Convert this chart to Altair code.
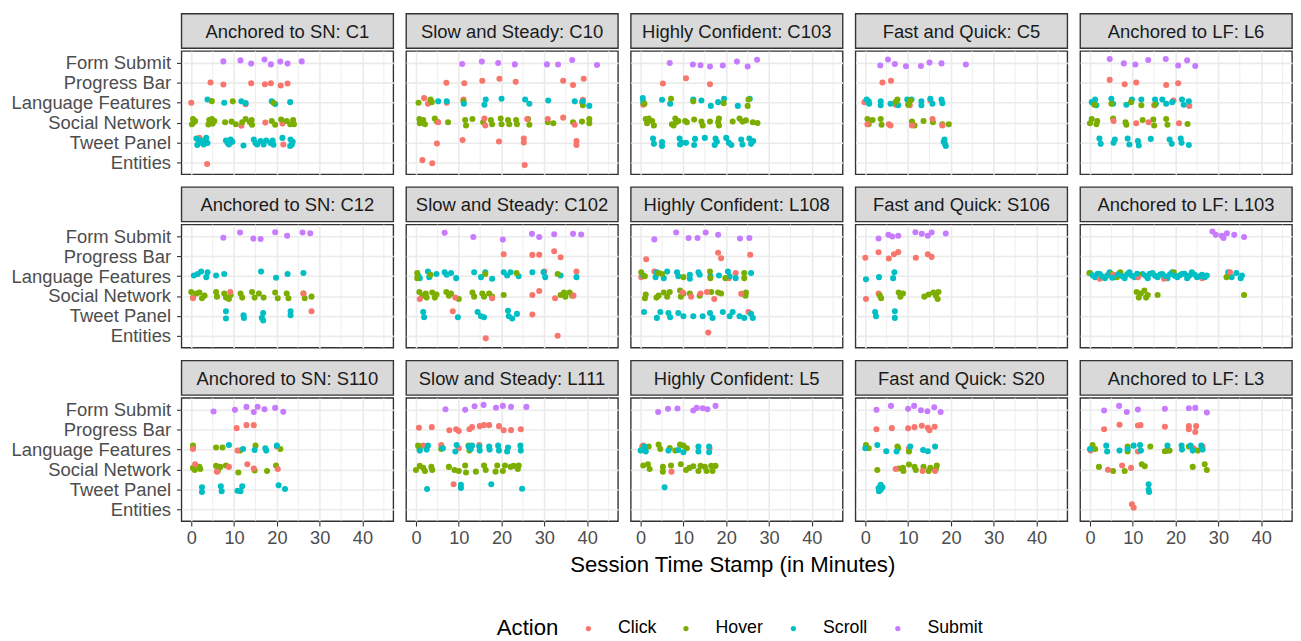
import altair as alt
import pandas as pd

FONT = "Liberation Sans"
ACTIONS = ["Click", "Hover", "Scroll", "Submit"]
ACTION_COLORS = ["#F8766D", "#7CAE00", "#00BFC4", "#C77CFF"]
CODES = {"c": "Click", "h": "Hover", "s": "Scroll", "u": "Submit"}
Y_LEVELS = ["Entities", "Tweet Panel", "Social Network", "Language Features", "Progress Bar", "Form Submit"]
X_MAJOR = [0, 10, 20, 30, 40]
X_MINOR = [5, 15, 25, 35, 45]
X_DOMAIN = [-2.3, 47.2]
Y_DOMAIN = [0.4, 6.6]
X_TITLE = "Session Time Stamp (in Minutes)"

PANEL_TITLES = [
    "Anchored to SN: C1", "Slow and Steady: C10", "Highly Confident: C103", "Fast and Quick: C5", "Anchored to LF: L6",
    "Anchored to SN: C12", "Slow and Steady: C102", "Highly Confident: L108", "Fast and Quick: S106", "Anchored to LF: L103",
    "Anchored to SN: S110", "Slow and Steady: L111", "Highly Confident: L5", "Fast and Quick: S20", "Anchored to LF: L3",
]

# (action code, minute, y position: 1=Entities ... 6=Form Submit, with jitter as read)
SN_C1 = [
    ("u", 7.5, 6.08), ("u", 11.5, 6.13), ("u", 14.0, 5.97), ("u", 17.1, 6.18), ("u", 18.6, 5.93), ("u", 20.8, 6.07), ("u", 22.5, 5.97), ("u", 25.8, 6.08),
    ("c", 4.5, 5.02), ("c", 7.5, 4.92), ("c", 14.0, 4.98), ("c", 17.2, 4.93), ("c", 18.6, 4.98), ("c", 20.9, 4.87), ("c", 22.5, 4.97),
    ("c", 0.0, 4.0), ("c", 12.7, 3.92), ("c", 11.7, 2.84), ("c", 17.3, 3.0), ("c", 21.3, 2.95), ("c", 1.9, 2.23), ("c", 21.5, 1.9), ("c", 3.7, 0.92),
    ("s", 3.8, 4.16), ("s", 7.7, 4.0), ("s", 11.7, 4.07), ("s", 12.7, 3.98), ("s", 18.8, 4.07), ("s", 19.6, 3.93), ("s", 23.1, 4.03),
    ("h", 4.8, 4.08), ("h", 9.7, 4.07), ("h", 19.2, 4.0),
    ("h", 0.4, 3.18), ("h", 0.6, 3.02), ("h", 0.15, 2.92), ("h", 0.9, 3.08), ("h", 4.2, 3.13), ("h", 5.0, 2.95), ("h", 5.4, 3.08), ("h", 4.0, 2.9), ("h", 4.8, 3.18),
    ("h", 7.9, 3.02), ("h", 9.4, 3.05), ("h", 10.4, 2.92), ("h", 11.9, 3.02), ("h", 12.7, 3.18), ("h", 14.1, 3.13), ("h", 14.2, 2.89), ("h", 13.7, 3.02),
    ("h", 18.8, 3.08), ("h", 19.6, 2.89), ("h", 21.0, 3.16), ("h", 22.3, 3.08), ("h", 23.1, 2.92), ("h", 23.8, 3.13), ("h", 24.0, 2.92),
    ("s", 1.2, 2.2), ("s", 1.7, 1.97), ("s", 2.3, 2.1), ("s", 2.9, 1.9), ("s", 3.5, 2.23), ("s", 3.8, 1.97), ("s", 1.4, 1.87), ("s", 3.1, 2.07),
    ("s", 8.1, 2.1), ("s", 8.8, 1.9), ("s", 9.6, 2.03), ("s", 8.5, 1.97), ("s", 9.2, 2.15), ("s", 12.2, 1.85),
    ("s", 14.6, 2.15), ("s", 15.4, 1.9), ("s", 16.2, 2.07), ("s", 15.0, 1.97), ("s", 17.5, 2.1), ("s", 16.9, 1.9),
    ("s", 18.5, 1.97), ("s", 19.2, 1.89), ("s", 19.0, 2.1), ("s", 21.3, 2.23), ("s", 23.2, 2.15), ("s", 23.5, 1.9), ("s", 23.7, 2.03), ("s", 23.1, 1.82),
]

SS_C10 = [
    ("u", 10.8, 5.95), ("u", 15.4, 6.07), ("u", 19.2, 6.0), ("u", 23.1, 5.93), ("u", 30.6, 5.93), ("u", 33.2, 5.92), ("u", 36.5, 6.15), ("u", 42.3, 5.9),
    ("c", 7.1, 5.0), ("c", 11.3, 4.98), ("c", 15.5, 5.1), ("c", 19.5, 5.21), ("c", 23.3, 5.05), ("c", 34.4, 5.11), ("c", 36.7, 4.89), ("c", 39.2, 5.21),
    ("c", 1.9, 4.23), ("c", 2.8, 3.95), ("c", 3.4, 4.07), ("c", 7.2, 4.0), ("c", 11.1, 4.16), ("c", 39.0, 4.15), ("c", 38.8, 4.03),
    ("h", 0.6, 4.0), ("h", 3.4, 4.16), ("h", 3.7, 4.03), ("h", 11.1, 4.07), ("h", 39.0, 3.87),
    ("s", 5.2, 4.07), ("s", 7.2, 4.07), ("s", 11.2, 3.95), ("s", 16.0, 3.9), ("s", 16.3, 4.16), ("s", 20.0, 4.2), ("s", 25.5, 4.16), ("s", 26.5, 3.95),
    ("s", 30.9, 4.11), ("s", 37.1, 4.07), ("s", 39.0, 4.07), ("s", 40.5, 3.84),
    ("h", 0.8, 3.18), ("h", 0.9, 2.97), ("h", 1.7, 3.13), ("h", 2.1, 2.92), ("h", 4.4, 3.2), ("h", 4.9, 3.05), ("h", 7.5, 3.02), ("h", 11.5, 3.13),
    ("h", 11.7, 2.85), ("h", 13.2, 3.18), ("h", 15.7, 3.02), ("h", 17.5, 3.13), ("h", 17.8, 2.92), ("h", 19.8, 3.2), ("h", 20.0, 2.92), ("h", 21.5, 3.13),
    ("h", 21.8, 2.92), ("h", 23.4, 3.13), ("h", 23.6, 2.92), ("h", 26.2, 3.18), ("h", 26.5, 2.89), ("h", 30.8, 3.02), ("h", 32.1, 2.97), ("h", 36.7, 3.02),
    ("h", 38.8, 3.05), ("h", 40.5, 3.18), ("h", 40.5, 2.97),
    ("c", 5.2, 3.02), ("c", 16.0, 3.2), ("c", 16.2, 2.85), ("c", 30.8, 3.18), ("c", 34.4, 3.25), ("c", 37.1, 2.89), ("c", 26.0, 3.18),
    ("c", 4.9, 1.95), ("c", 10.9, 2.12), ("c", 19.4, 2.05), ("c", 25.2, 2.2), ("c", 25.2, 2.0), ("c", 37.5, 2.07), ("c", 37.5, 1.87),
    ("c", 1.5, 1.11), ("c", 3.8, 0.95), ("c", 25.4, 0.87),
]

HC_C103 = [
    ("u", 6.8, 6.0), ("u", 12.2, 5.92), ("u", 14.0, 5.89), ("u", 16.2, 5.82), ("u", 19.2, 5.87), ("u", 22.5, 6.07), ("u", 25.0, 5.82), ("u", 27.2, 6.16),
    ("c", 5.2, 4.97), ("c", 10.6, 5.23), ("c", 16.2, 4.93), ("c", 0.6, 3.9),
    ("s", 0.5, 4.23), ("s", 0.6, 4.03), ("s", 5.0, 4.15), ("s", 6.9, 3.95), ("s", 12.3, 4.16), ("s", 14.2, 4.11), ("s", 16.4, 3.84), ("s", 18.1, 4.03),
    ("s", 19.5, 4.2), ("s", 22.7, 3.84), ("s", 25.5, 4.2),
    ("h", 0.9, 3.95), ("h", 7.1, 4.2), ("h", 12.3, 4.07), ("h", 19.4, 3.98), ("h", 25.2, 4.16), ("h", 25.0, 3.84),
    ("h", 1.2, 3.18), ("h", 1.9, 3.2), ("h", 1.5, 2.97), ("h", 3.1, 2.85), ("h", 2.7, 3.08), ("h", 7.3, 2.92), ("h", 8.1, 3.2), ("h", 8.3, 3.02),
    ("h", 7.7, 2.85), ("h", 8.8, 3.08), ("h", 10.4, 3.08), ("h", 10.8, 3.02), ("h", 12.5, 3.16), ("h", 14.2, 3.05), ("h", 14.5, 2.85), ("h", 16.2, 3.05),
    ("h", 18.3, 3.2), ("h", 18.3, 2.85), ("h", 18.1, 3.02), ("h", 21.5, 3.05), ("h", 23.1, 3.2), ("h", 23.8, 3.05), ("h", 24.6, 3.11), ("h", 26.2, 3.02), ("h", 27.3, 2.98),
    ("s", 2.9, 2.2), ("s", 3.1, 1.93), ("s", 5.0, 2.02), ("s", 5.0, 1.82), ("s", 9.1, 2.2), ("s", 9.2, 1.9), ("s", 9.6, 1.98), ("s", 10.6, 1.98),
    ("s", 12.7, 2.18), ("s", 12.5, 1.87), ("s", 15.0, 2.23), ("s", 17.5, 2.2), ("s", 17.3, 1.87), ("s", 17.8, 2.03), ("s", 20.0, 2.23), ("s", 20.6, 1.98),
    ("s", 21.2, 1.87), ("s", 23.5, 2.15), ("s", 23.8, 1.9), ("s", 25.4, 2.2), ("s", 25.8, 1.93), ("s", 26.3, 2.07),
]

FQ_C5 = [
    ("u", 3.5, 5.87), ("u", 5.3, 6.18), ("u", 6.9, 5.95), ("u", 9.5, 5.84), ("u", 13.0, 5.85), ("u", 15.0, 6.02), ("u", 17.8, 5.98), ("u", 23.5, 5.92),
    ("c", 4.0, 5.02), ("c", 6.0, 5.11),
    ("c", -0.2, 4.03), ("c", 7.1, 3.9), ("c", 10.4, 3.87), ("c", 15.2, 4.11),
    ("s", 0.3, 4.16), ("s", 0.9, 3.95), ("s", 3.6, 4.07), ("s", 3.6, 3.87), ("s", 5.9, 3.95), ("s", 7.7, 3.87), ("s", 9.8, 4.16), ("s", 10.2, 4.03),
    ("s", 10.8, 4.16), ("s", 13.1, 4.07), ("s", 13.1, 3.87), ("s", 15.2, 4.2), ("s", 15.7, 3.95), ("s", 17.8, 4.16), ("s", 18.0, 3.98), ("s", 0.8, 4.07),
    ("h", 7.5, 4.16), ("h", 7.1, 4.03), ("h", 10.5, 4.11), ("h", 10.0, 3.9),
    ("h", 0.5, 3.18), ("h", 0.8, 2.92), ("h", 1.7, 3.13), ("h", 3.6, 3.18), ("h", 3.8, 2.89), ("h", 10.9, 3.05), ("h", 11.5, 2.85), ("h", 13.6, 3.08),
    ("h", 15.8, 3.02), ("h", 19.5, 2.92), ("h", 18.0, 2.92),
    ("c", 0.5, 2.92), ("c", 5.5, 2.92), ("c", 5.9, 2.85), ("c", 10.9, 2.85), ("c", 15.7, 3.18), ("c", 18.0, 2.85),
    ("s", 18.5, 2.15), ("s", 18.6, 1.93), ("s", 18.8, 1.82), ("s", 18.3, 2.03),
]

LF_L6 = [
    ("u", 4.6, 6.2), ("u", 7.9, 5.98), ("u", 10.6, 5.92), ("u", 13.6, 6.15), ("u", 17.7, 6.2), ("u", 20.6, 5.87), ("u", 22.7, 6.13), ("u", 24.6, 5.85),
    ("c", 4.6, 5.15), ("c", 8.1, 4.93), ("c", 10.8, 5.02), ("c", 17.8, 4.89), ("c", 20.6, 4.98),
    ("c", 19.5, 4.11), ("c", 23.2, 3.84), ("c", 15.0, 3.87),
    ("s", 0.4, 4.03), ("s", 1.2, 4.16), ("s", 1.5, 3.87), ("s", 5.0, 4.2), ("s", 5.4, 3.95), ("s", 8.5, 3.9), ("s", 9.8, 4.16), ("s", 12.0, 4.16),
    ("s", 15.2, 4.16), ("s", 15.4, 3.95), ("s", 16.9, 4.16), ("s", 17.8, 3.95), ("s", 19.2, 4.03), ("s", 21.5, 4.16), ("s", 21.9, 3.9), ("s", 23.1, 4.07),
    ("h", 1.0, 3.9), ("h", 5.0, 3.95), ("h", 9.6, 4.03), ("h", 12.0, 3.87), ("h", 15.2, 3.9),
    ("h", 0.0, 2.97), ("h", 0.4, 3.18), ("h", 1.7, 3.08), ("h", 1.5, 2.92), ("h", 5.4, 3.2), ("h", 8.3, 3.02), ("h", 8.5, 2.89), ("h", 12.3, 3.13),
    ("h", 14.8, 3.16), ("h", 15.0, 2.85), ("h", 17.8, 3.18), ("h", 18.1, 2.89), ("h", 22.8, 2.93),
    ("c", 5.5, 3.08), ("c", 10.8, 2.97), ("c", 13.7, 3.02), ("c", 20.8, 2.97),
    ("s", 2.2, 2.2), ("s", 2.5, 1.93), ("s", 5.8, 2.15), ("s", 5.5, 1.98), ("s", 8.8, 2.2), ("s", 9.2, 1.9), ("s", 11.2, 2.07), ("s", 11.4, 1.85),
    ("s", 14.2, 2.18), ("s", 18.6, 2.15), ("s", 19.1, 1.93), ("s", 21.2, 2.2), ("s", 21.4, 1.98), ("s", 23.1, 1.87),
]

SN_C12 = [
    ("u", 7.5, 5.93), ("u", 11.4, 6.2), ("u", 14.5, 5.89), ("u", 16.2, 5.87), ("u", 19.6, 6.21), ("u", 22.4, 6.03), ("u", 26.0, 6.2), ("u", 27.8, 6.16),
    ("s", 0.6, 4.03), ("s", 1.5, 4.11), ("s", 2.3, 4.23), ("s", 3.5, 3.95), ("s", 3.8, 4.2), ("s", 5.8, 4.03), ("s", 7.7, 4.11), ("s", 16.3, 4.23),
    ("s", 19.8, 3.92), ("s", 22.5, 4.11), ("s", 26.2, 4.16),
    ("h", 0.0, 3.2), ("h", 0.4, 2.92), ("h", 1.2, 3.13), ("h", 1.9, 3.18), ("h", 2.5, 2.89), ("h", 3.1, 3.02), ("h", 5.8, 3.2), ("h", 6.0, 2.97),
    ("h", 7.7, 3.13), ("h", 8.1, 2.92), ("h", 8.8, 2.85), ("h", 9.2, 3.05), ("h", 11.5, 3.13), ("h", 11.9, 2.92), ("h", 14.2, 3.2), ("h", 14.8, 2.92),
    ("h", 15.8, 3.13), ("h", 16.9, 2.92), ("h", 19.6, 3.18), ("h", 20.2, 2.89), ("h", 22.3, 3.13), ("h", 22.7, 2.89), ("h", 26.2, 3.13), ("h", 26.5, 2.89), ("h", 28.1, 2.97),
    ("c", 0.4, 2.89), ("c", 9.1, 3.2), ("c", 26.2, 3.13), ("c", 28.1, 2.23),
    ("s", 8.1, 2.23), ("s", 8.1, 1.87), ("s", 12.2, 2.03), ("s", 12.3, 1.9), ("s", 16.8, 2.15), ("s", 16.5, 1.9), ("s", 16.8, 1.77), ("s", 23.2, 2.23), ("s", 23.2, 2.03),
]

SS_C102 = [
    ("u", 6.7, 6.18), ("u", 13.4, 5.97), ("u", 20.3, 5.84), ("u", 27.1, 6.13), ("u", 28.8, 5.97), ("u", 32.3, 6.11), ("u", 36.7, 6.13), ("u", 38.6, 6.1),
    ("c", 20.5, 5.1), ("c", 27.2, 5.07), ("c", 28.8, 5.08), ("c", 32.3, 5.25), ("c", 33.8, 4.95),
    ("c", 30.0, 4.23), ("c", 37.5, 4.23),
    ("s", 0.5, 4.03), ("s", 0.9, 3.9), ("s", 2.8, 4.23), ("s", 3.1, 3.95), ("s", 4.8, 4.11), ("s", 6.7, 4.2), ("s", 7.2, 4.07), ("s", 8.2, 4.16),
    ("s", 9.4, 3.9), ("s", 13.6, 4.2), ("s", 15.2, 3.95), ("s", 16.2, 4.2), ("s", 17.8, 3.87), ("s", 20.5, 4.2), ("s", 21.3, 4.03), ("s", 22.1, 4.2),
    ("s", 24.0, 4.0), ("s", 27.2, 4.2), ("s", 29.8, 4.2), ("s", 30.2, 3.95), ("s", 33.8, 4.03), ("s", 37.5, 3.95),
    ("h", 0.3, 4.16), ("h", 0.3, 3.9), ("h", 3.4, 4.07), ("h", 16.2, 4.11), ("h", 23.5, 4.16), ("h", 33.1, 4.11),
    ("h", 0.8, 3.2), ("h", 1.5, 3.02), ("h", 2.3, 3.13), ("h", 2.5, 2.92), ("h", 3.8, 3.18), ("h", 4.8, 3.08), ("h", 4.4, 2.92), ("h", 7.1, 3.2),
    ("h", 7.7, 3.02), ("h", 8.2, 3.13), ("h", 10.0, 2.85), ("h", 13.2, 3.18), ("h", 13.6, 2.97), ("h", 15.5, 3.13), ("h", 15.9, 2.97), ("h", 17.1, 3.13),
    ("h", 17.8, 2.97), ("h", 20.5, 3.05), ("h", 33.8, 3.05), ("h", 34.6, 3.18), ("h", 34.9, 2.97), ("h", 35.9, 3.18), ("h", 36.5, 3.02),
    ("c", 0.9, 2.85), ("c", 9.2, 2.92), ("c", 17.8, 2.89), ("c", 27.2, 3.05), ("c", 28.8, 3.25), ("c", 32.5, 2.89), ("c", 36.8, 3.02),
    ("c", 8.6, 2.23), ("c", 27.2, 2.07), ("c", 16.3, 0.87), ("c", 33.1, 1.0),
    ("s", 1.7, 2.2), ("s", 1.9, 1.93), ("s", 9.8, 1.93), ("s", 14.4, 2.2), ("s", 15.2, 1.98), ("s", 15.9, 1.93), ("s", 21.5, 2.26), ("s", 21.7, 1.98),
    ("s", 22.5, 1.87), ("s", 23.6, 2.1),
]

HC_L108 = [
    ("u", 3.2, 5.85), ("u", 8.3, 6.2), ("u", 11.2, 5.92), ("u", 13.3, 5.92), ("u", 15.2, 6.2), ("u", 18.1, 6.08), ("u", 23.2, 5.9), ("u", 25.4, 5.92),
    ("c", 1.3, 4.85), ("c", 18.1, 5.18), ("c", 18.8, 4.9), ("c", 25.6, 5.08),
    ("c", 0.15, 3.95), ("c", 3.2, 4.23), ("c", 22.2, 4.16), ("c", 20.6, 3.9),
    ("s", 0.6, 4.03), ("s", 3.5, 3.95), ("s", 3.8, 4.2), ("s", 5.4, 3.9), ("s", 6.2, 4.23), ("s", 8.5, 4.2), ("s", 8.8, 4.0), ("s", 11.5, 4.07),
    ("s", 11.5, 3.87), ("s", 13.5, 4.2), ("s", 13.8, 4.07), ("s", 16.3, 4.0), ("s", 18.3, 4.03), ("s", 20.4, 4.23), ("s", 20.8, 4.0), ("s", 22.2, 3.9), ("s", 25.8, 4.16),
    ("h", 0.15, 4.2), ("h", 1.0, 4.0), ("h", 4.2, 4.16), ("h", 5.0, 4.11), ("h", 10.0, 3.95), ("h", 16.2, 4.23), ("h", 16.3, 3.9), ("h", 19.8, 3.9),
    ("h", 24.2, 4.16), ("h", 24.2, 3.9),
    ("h", 1.2, 3.08), ("h", 1.0, 2.89), ("h", 3.7, 2.92), ("h", 4.2, 3.02), ("h", 5.4, 3.18), ("h", 6.2, 2.97), ("h", 6.8, 3.2), ("h", 9.2, 3.28),
    ("h", 9.4, 2.97), ("h", 10.0, 3.13), ("h", 11.5, 3.13), ("h", 13.8, 3.02), ("h", 16.5, 3.2), ("h", 18.1, 3.18), ("h", 18.8, 3.13), ("h", 24.6, 3.18), ("h", 24.5, 3.02),
    ("c", 9.8, 3.18), ("c", 11.8, 2.97), ("c", 14.0, 3.13), ("c", 15.5, 3.2), ("c", 17.2, 2.85), ("c", 23.5, 3.11),
    ("c", 15.8, 1.16), ("c", 25.2, 2.2),
    ("s", 0.8, 2.2), ("s", 3.8, 1.9), ("s", 4.6, 2.2), ("s", 6.5, 2.15), ("s", 6.9, 1.93), ("s", 8.8, 2.15), ("s", 10.0, 1.98), ("s", 12.3, 1.98),
    ("s", 14.5, 1.98), ("s", 16.2, 2.15), ("s", 16.8, 1.9), ("s", 19.2, 2.2), ("s", 20.8, 1.98), ("s", 21.5, 2.2), ("s", 23.1, 1.98), ("s", 24.2, 1.9),
    ("s", 25.8, 2.1), ("s", 26.2, 1.9),
]

FQ_S106 = [
    ("u", 3.1, 5.9), ("u", 5.4, 6.08), ("u", 6.3, 6.0), ("u", 7.7, 6.03), ("u", 11.7, 6.21), ("u", 13.2, 6.13), ("u", 14.6, 6.03), ("u", 15.5, 6.2), ("u", 18.8, 6.15),
    ("c", 0.0, 4.93), ("c", 3.1, 5.2), ("c", 5.5, 4.89), ("c", 6.7, 5.1), ("c", 7.7, 5.21), ("c", 11.8, 4.93), ("c", 14.6, 5.1), ("c", 15.5, 4.97),
    ("c", 3.1, 3.13), ("c", 0.15, 2.85),
    ("s", 0.15, 3.84), ("s", 3.2, 3.95), ("s", 6.5, 3.9), ("s", 6.8, 4.2),
    ("h", 3.4, 3.02), ("h", 3.7, 2.89), ("h", 7.8, 3.18), ("h", 8.2, 2.97), ("h", 8.8, 3.13), ("h", 13.8, 2.97), ("h", 14.8, 3.08), ("h", 15.9, 3.18),
    ("h", 16.5, 3.02), ("h", 16.9, 2.85), ("h", 17.1, 3.2),
    ("s", 2.3, 2.2), ("s", 2.5, 1.98), ("s", 6.9, 2.23), ("s", 6.9, 1.9),
]

LF_L103 = [
    ("u", 28.6, 6.25), ("u", 29.4, 6.08), ("u", 30.8, 6.03), ("u", 31.2, 5.92), ("u", 32.0, 6.16), ("u", 33.7, 6.08), ("u", 36.0, 5.97),
    ("s", 0.0, 4.16), ("s", 1.2, 3.95), ("s", 2.3, 4.11), ("s", 3.5, 3.9), ("s", 4.6, 4.2), ("s", 5.8, 3.95), ("s", 6.9, 4.16), ("s", 8.1, 3.9),
    ("s", 9.2, 4.2), ("s", 10.4, 3.95), ("s", 12.3, 4.11), ("s", 13.5, 3.9), ("s", 14.6, 4.16), ("s", 15.8, 3.95), ("s", 16.9, 4.11), ("s", 18.1, 3.9),
    ("s", 19.2, 4.2), ("s", 20.4, 3.95), ("s", 21.5, 4.11), ("s", 22.7, 3.9), ("s", 23.8, 4.2), ("s", 25.0, 3.95), ("s", 26.2, 4.07), ("s", 27.3, 4.03),
    ("s", 32.3, 4.2), ("s", 33.1, 3.95), ("s", 34.2, 4.16), ("s", 35.2, 3.9), ("s", 35.5, 4.03),
    ("h", -0.15, 4.16), ("h", 5.0, 4.11), ("h", 6.3, 3.95), ("h", 7.1, 4.2), ("h", 11.4, 4.07), ("h", 19.6, 4.2), ("h", 31.9, 3.95),
    ("c", 2.3, 3.87), ("c", 5.4, 4.07), ("c", 11.2, 3.95), ("c", 17.3, 3.87), ("c", 26.2, 3.9), ("c", 32.7, 4.2),
    ("s", 0.6, 4.05), ("s", 1.8, 4.12), ("s", 2.9, 3.98), ("s", 4.1, 4.05), ("s", 5.2, 3.92), ("s", 6.5, 4.08), ("s", 7.6, 4.0), ("s", 8.7, 4.1),
    ("s", 9.8, 4.02), ("s", 11.0, 4.12), ("s", 13.0, 4.02), ("s", 14.0, 4.12), ("s", 15.2, 4.02), ("s", 16.4, 4.08), ("s", 17.6, 4.0), ("s", 18.7, 4.1),
    ("s", 19.8, 4.02), ("s", 21.0, 4.05), ("s", 22.1, 4.12), ("s", 23.2, 4.02), ("s", 24.4, 4.08), ("s", 25.6, 4.0), ("s", 26.8, 3.95),
    ("h", 10.9, 3.2), ("h", 11.4, 2.92), ("h", 11.9, 3.13), ("h", 12.7, 3.28), ("h", 13.1, 2.92), ("h", 13.5, 3.05), ("h", 15.8, 3.05), ("h", 36.0, 3.05),
]

SN_S110 = [
    ("u", 5.2, 5.92), ("u", 10.2, 6.0), ("u", 12.9, 6.15), ("u", 14.6, 5.89), ("u", 15.5, 6.16), ("u", 17.1, 6.03), ("u", 19.6, 6.1), ("u", 21.5, 5.9),
    ("c", 10.6, 5.08), ("c", 12.9, 5.23), ("c", 14.6, 5.23),
    ("h", 0.4, 4.2), ("h", 5.8, 4.11), ("h", 7.3, 4.11), ("h", 15.0, 4.2), ("h", 20.8, 4.03), ("h", 11.4, 3.95),
    ("c", 0.4, 4.03), ("c", 10.8, 3.95), ("c", 20.0, 4.16),
    ("s", 8.8, 4.23), ("s", 12.1, 4.03), ("s", 14.8, 3.98), ("s", 17.3, 4.07), ("s", 17.5, 3.95), ("s", 20.0, 4.2),
    ("h", 0.4, 3.08), ("h", 0.8, 2.97), ("h", 1.9, 3.13), ("h", 2.1, 3.02), ("h", 5.8, 3.18), ("h", 6.2, 2.92), ("h", 6.8, 3.13), ("h", 8.1, 3.2),
    ("h", 11.0, 2.85), ("h", 14.8, 2.95), ("h", 17.7, 2.92), ("h", 19.8, 3.2),
    ("c", 0.9, 3.26), ("c", 6.0, 2.89), ("c", 8.8, 3.13), ("c", 13.1, 3.26), ("c", 14.6, 3.05), ("c", 20.2, 3.02),
    ("s", 2.5, 2.1), ("s", 2.5, 1.87), ("s", 6.9, 2.15), ("s", 7.1, 1.9), ("s", 10.8, 1.93), ("s", 11.9, 2.15), ("s", 11.5, 1.9), ("s", 20.4, 2.2), ("s", 21.9, 2.02),
]

SS_L111 = [
    ("u", 6.9, 6.03), ("u", 11.5, 6.0), ("u", 13.7, 6.18), ("u", 15.8, 6.25), ("u", 18.7, 6.11), ("u", 20.3, 6.2), ("u", 22.2, 6.15), ("u", 25.8, 6.15),
    ("c", 0.7, 5.1), ("c", 3.7, 5.13), ("c", 7.8, 4.97), ("c", 9.4, 5.02), ("c", 10.0, 4.93), ("c", 12.5, 5.02), ("c", 13.1, 5.13), ("c", 14.9, 5.18),
    ("c", 15.9, 5.23), ("c", 17.1, 5.23), ("c", 19.4, 5.18), ("c", 20.5, 4.97), ("c", 22.2, 4.98), ("c", 24.5, 5.02),
    ("c", 1.7, 4.2), ("c", 5.9, 4.23), ("c", 10.0, 4.07), ("c", 14.8, 4.23),
    ("h", 0.5, 4.2), ("h", 0.8, 4.03), ("h", 5.9, 4.03), ("h", 12.5, 3.95), ("h", 12.3, 4.2),
    ("s", 0.9, 3.95), ("s", 2.8, 4.2), ("s", 2.5, 4.0), ("s", 6.3, 4.07), ("s", 9.2, 3.9), ("s", 9.5, 4.23), ("s", 12.3, 4.16), ("s", 12.8, 4.03),
    ("s", 13.1, 4.2), ("s", 14.8, 4.16), ("s", 14.9, 3.95), ("s", 17.1, 4.16), ("s", 17.2, 4.0), ("s", 19.2, 4.2), ("s", 19.4, 3.95), ("s", 21.5, 4.11),
    ("s", 21.3, 3.9), ("s", 24.4, 4.2), ("s", 24.5, 3.95),
    ("h", 0.0, 2.97), ("h", 0.9, 3.18), ("h", 1.7, 3.08), ("h", 2.1, 2.92), ("h", 3.6, 3.13), ("h", 3.8, 2.97), ("h", 7.7, 3.13), ("h", 9.0, 2.97),
    ("h", 10.0, 2.92), ("h", 11.5, 3.2), ("h", 11.7, 2.85), ("h", 14.0, 2.89), ("h", 15.9, 3.2), ("h", 16.3, 2.97), ("h", 18.6, 2.89), ("h", 19.0, 3.2),
    ("h", 20.3, 2.92), ("h", 20.8, 3.2), ("h", 22.1, 3.13), ("h", 22.8, 3.18), ("h", 23.8, 3.02), ("h", 24.0, 3.2),
    ("c", 8.8, 2.26),
    ("s", 2.6, 2.02), ("s", 10.5, 2.23), ("s", 10.5, 2.07), ("s", 17.6, 2.26), ("s", 24.8, 2.03),
]

HC_L5 = [
    ("u", 4.1, 5.89), ("u", 6.4, 6.05), ("u", 8.6, 6.07), ("u", 12.3, 5.97), ("u", 13.1, 6.1), ("u", 14.5, 6.08), ("u", 15.6, 6.03), ("u", 17.5, 6.2),
    ("h", 0.4, 4.16), ("h", 1.9, 4.16), ("h", 4.2, 4.25), ("h", 4.6, 4.03), ("h", 6.8, 4.08), ("h", 8.1, 3.95), ("h", 9.2, 4.25), ("h", 10.0, 4.2), ("h", 10.8, 4.07),
    ("c", 0.6, 4.2), ("c", 16.1, 4.07),
    ("s", 0.0, 3.95), ("s", 0.9, 4.16), ("s", 1.2, 3.9), ("s", 6.5, 3.95), ("s", 8.8, 3.98), ("s", 10.0, 3.87), ("s", 13.5, 4.16), ("s", 13.5, 3.9),
    ("s", 16.0, 4.16), ("s", 16.0, 3.87),
    ("h", 0.6, 3.2), ("h", 1.7, 3.26), ("h", 2.1, 3.02), ("h", 5.2, 3.13), ("h", 5.2, 2.89), ("h", 7.1, 3.2), ("h", 9.4, 3.26), ("h", 10.6, 2.97),
    ("h", 11.4, 3.08), ("h", 12.3, 3.16), ("h", 13.5, 2.92), ("h", 14.0, 3.18), ("h", 15.0, 3.13), ("h", 15.4, 2.92), ("h", 16.5, 3.18), ("h", 17.5, 3.18), ("h", 16.8, 2.92),
    ("c", 7.2, 2.89),
    ("s", 5.6, 2.1),
]

FQ_S20 = [
    ("u", 2.6, 6.0), ("u", 6.0, 6.2), ("u", 10.0, 6.05), ("u", 11.4, 6.2), ("u", 13.0, 5.98), ("u", 14.5, 5.93), ("u", 16.1, 6.13), ("u", 17.6, 5.89),
    ("c", 2.6, 5.02), ("c", 6.2, 5.08), ("c", 10.0, 5.07), ("c", 11.5, 5.13), ("c", 13.2, 5.2), ("c", 14.6, 5.1), ("c", 15.0, 4.97), ("c", 16.2, 5.15),
    ("c", 10.2, 4.07),
    ("h", 0.15, 4.23), ("h", 0.8, 4.07), ("h", 7.5, 4.16), ("h", 7.7, 4.07), ("h", 10.2, 3.9),
    ("s", 0.0, 4.07), ("s", 2.8, 4.23), ("s", 4.9, 3.92), ("s", 7.3, 3.9), ("s", 10.5, 4.16), ("s", 13.5, 3.98), ("s", 14.6, 3.92), ("s", 16.3, 4.15),
    ("h", 2.8, 2.97), ("h", 7.8, 3.05), ("h", 8.8, 3.08), ("h", 8.9, 2.92), ("h", 10.2, 3.25), ("h", 11.5, 3.13), ("h", 11.8, 2.97), ("h", 13.6, 3.13),
    ("h", 14.8, 2.92), ("h", 15.2, 3.08), ("h", 16.7, 3.2), ("h", 16.5, 3.02),
    ("c", 7.1, 3.02), ("c", 13.4, 2.92), ("c", 16.3, 2.92),
    ("s", 3.1, 2.07), ("s", 3.6, 2.23), ("s", 3.6, 1.98), ("s", 3.2, 1.9), ("s", 4.0, 2.1),
]

LF_L3 = [
    ("u", 3.3, 5.97), ("u", 6.8, 6.2), ("u", 8.6, 5.89), ("u", 11.2, 6.02), ("u", 17.5, 6.05), ("u", 23.1, 6.08), ("u", 24.6, 6.1), ("u", 27.3, 5.87),
    ("c", 3.3, 5.02), ("c", 6.9, 5.25), ("c", 11.2, 5.21), ("c", 11.8, 5.23), ("c", 17.5, 5.15), ("c", 23.1, 5.18), ("c", 23.1, 5.02), ("c", 24.8, 5.18), ("c", 24.6, 4.89),
    ("c", 0.15, 3.95), ("c", 11.2, 3.9), ("c", 18.1, 3.95), ("c", 24.2, 4.07), ("c", 26.3, 4.16),
    ("h", 0.6, 4.23), ("h", 1.2, 4.03), ("h", 8.8, 4.16), ("h", 8.8, 3.9), ("h", 14.1, 4.16), ("h", 17.5, 3.92), ("h", 18.6, 3.95), ("h", 23.1, 4.16), ("h", 25.2, 3.95),
    ("s", 0.0, 4.03), ("s", 3.8, 4.2), ("s", 4.0, 3.9), ("s", 6.9, 3.95), ("s", 8.8, 4.03), ("s", 10.2, 4.2), ("s", 11.7, 4.23), ("s", 11.9, 3.95),
    ("s", 18.1, 4.2), ("s", 21.4, 4.2), ("s", 21.5, 4.0), ("s", 23.5, 4.2), ("s", 24.0, 3.95), ("s", 26.3, 4.0), ("s", 26.0, 4.2),
    ("h", 2.1, 3.13), ("h", 5.4, 2.92), ("h", 8.1, 2.92), ("h", 12.1, 3.26), ("h", 12.8, 3.16), ("h", 24.0, 3.13), ("h", 26.8, 3.26), ("h", 27.3, 2.97),
    ("c", 4.2, 2.98), ("c", 7.5, 3.2), ("c", 9.6, 3.08),
    ("s", 13.7, 2.26), ("s", 13.7, 1.98), ("s", 13.8, 1.87),
    ("c", 9.8, 1.25), ("c", 10.2, 1.08),
]

PANEL_DATA = [SN_C1, SS_C10, HC_C103, FQ_C5, LF_L6,
              SN_C12, SS_C102, HC_L108, FQ_S106, LF_L103,
              SN_S110, SS_L111, HC_L5, FQ_S20, LF_L3]

PW, PH, SH = 215, 125, 35
COL_GAP, ROW_GAP = 11, 10
TW = 5 * PW + 4 * COL_GAP
GRID = "#EBEBEB"
DARK = "#333333"

label_expr = "[" + ",".join(["''"] + ["'" + s + "'" for s in Y_LEVELS]) + "][datum.value]"

legend = alt.Legend(
    orient="none", legendX=320, legendY=615, direction="horizontal",
    titleOrient="left", titleFontSize=22.5, titleFontWeight="normal", titleColor="black", titleFont=FONT,
    titleBaseline="middle", titlePadding=21,
    labelFont=FONT, labelFontSize=18, labelColor="black", labelOffset=21,
    symbolType="circle", symbolSize=28, symbolStrokeWidth=0, columnPadding=21,
)

cells = []
for i, (title, pts) in enumerate(zip(PANEL_TITLES, PANEL_DATA)):
    df = pd.DataFrame([(CODES[a], m, y) for a, m, y in pts], columns=["Action", "minute", "y"])
    show_y = (i % 5 == 0)
    show_x = (i >= 10)
    xaxis = alt.Axis(
        values=X_MAJOR, format="d", grid=True, gridColor=GRID, gridWidth=1.6, domain=False,
        labels=show_x, ticks=show_x, tickColor=DARK, tickWidth=1.1, tickSize=5,
        labelFont=FONT, labelFontSize=18.5, labelColor="#4D4D4D", labelPadding=3, title=None,
    )
    yaxis = alt.Axis(
        values=[1, 2, 3, 4, 5, 6], labelExpr=label_expr, grid=True, gridColor=GRID, gridWidth=1.6, domain=False,
        labels=show_y, ticks=show_y, tickColor=DARK, tickWidth=1.1, tickSize=5,
        labelFont=FONT, labelFontSize=18.7, labelColor="#4D4D4D", labelPadding=6, title=None,
    )
    xscale = alt.Scale(domain=X_DOMAIN, nice=False, zero=False)
    minor = alt.Chart(pd.DataFrame({"m": X_MINOR})).mark_rule(color=GRID, strokeWidth=0.8).encode(
        x=alt.X("m:Q", scale=xscale, axis=xaxis)
    )
    pts_chart = alt.Chart(df).mark_circle(size=38, opacity=1).encode(
        x=alt.X("minute:Q", scale=xscale, axis=xaxis),
        y=alt.Y("y:Q", scale=alt.Scale(domain=Y_DOMAIN, nice=False, zero=False), axis=yaxis),
        color=alt.Color("Action:N", scale=alt.Scale(domain=ACTIONS, range=ACTION_COLORS), legend=legend),
    )
    plot = alt.layer(minor, pts_chart).properties(
        width=PW, height=PH,
        view=alt.ViewBackground(fill="white", stroke=DARK, strokeWidth=1.4),
    )
    strip = alt.Chart(pd.DataFrame({"t": [title]})).mark_text(
        font=FONT, fontSize=18.7, color="#1A1A1A", align="center", baseline="middle"
    ).encode(
        text="t:N", x=alt.value(PW / 2), y=alt.value(SH / 2 + 1)
    ).properties(
        width=PW, height=SH,
        view=alt.ViewBackground(fill="#D9D9D9", stroke=DARK, strokeWidth=1.4),
    )
    cells.append(alt.vconcat(strip, plot, spacing=0))

grid = alt.concat(*cells, columns=5, spacing={"row": ROW_GAP, "column": COL_GAP}).properties(align="each")

x_title = alt.Chart(pd.DataFrame({"t": [X_TITLE]})).mark_text(
    font=FONT, fontSize=22.5, color="black", align="center", baseline="middle"
).encode(
    text="t:N", x=alt.value(TW / 2), y=alt.value(17)
).properties(
    width=TW, height=30, view=alt.ViewBackground(strokeWidth=0, fill="white"),
)

chart = alt.vconcat(grid, x_title, spacing=0).properties(
    padding={"left": 2, "top": 0, "right": 0, "bottom": 0},
    background="white",
).resolve_scale(color="shared")

chart.save("out.html", embed_options={"renderer": "svg", "actions": False})
